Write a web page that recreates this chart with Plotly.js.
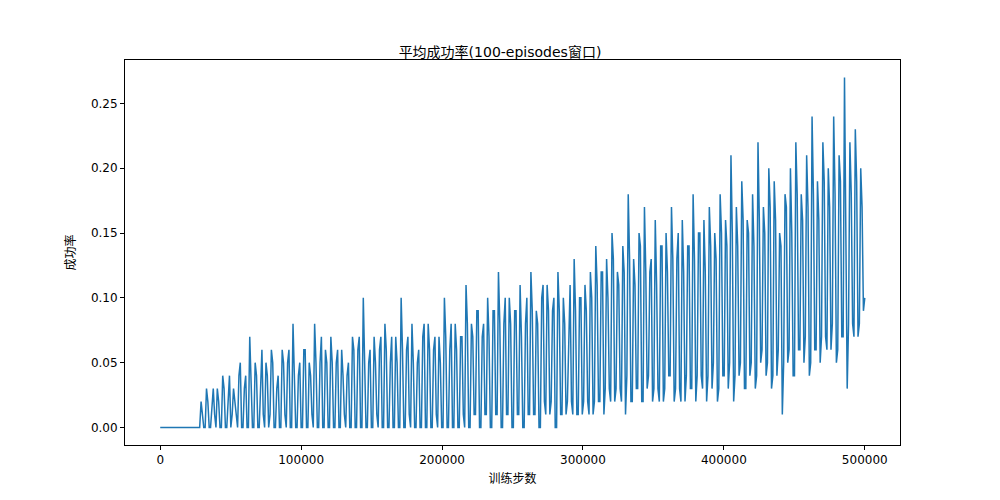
<!DOCTYPE html>
<html><head><meta charset="utf-8">
<script src="https://cdn.plot.ly/plotly-3.0.1.min.js"></script>
</head><body style="margin:0">
<div id="c" style="width:1000px;height:500px"></div>
<script>
const titleText = "平均成功率(100-episodes窗口)";
const xLabel = "训练步数";
const yLabel = "成功率";
const startSteps = [0, 28000];
const startValues = [0, 0];
const rampStart = 29000, rampEnd = 500000;
const seg1 = [0.02,0,0.03,0,0.02,0.01,0.03,0,0.04,0,0.02,0,0.03,0.01,0.04,0,0.03,0,0.07,0,0.05,0,0.04,0.01,0.05,0,0.06,0,0.03,0,0.06,0.01,0.05,0,0.08,0,0.04,0,0.06,0,0.05,0.01,0.08,0,0.05,0,0.06,0];
const seg1b = [0.01,0,0.02,0,0.03,0,0.02,0,0.03,0,0.04,0.01,0.02,0,0.05,0,0.04,0,0.03,0,0.04,0,0.06,0,0.04,0.01,0.05,0,0.04,0,0.05,0,0.06,0,0.04,0,0.05,0,0.06,0,0.04,0,0.05,0,0.07,0,0.05,0];
const seg2 = [0.07,0,0.05,0,0.06,0.01,0.04,0,0.07,0,0.06,0,0.10,0,0.05,0,0.07,0.01,0.06,0,0.08,0,0.05,0,0.07,0,0.10,0,0.06,0.01,0.08,0,0.05,0,0.07,0,0.08,0,0.06,0.01,0.07,0,0.10,0,0.06,0,0.08,0,0.07,0.01];
const seg2b = [0.05,0,0.06,0,0.04,0,0.05,0,0.06,0,0.07,0,0.05,0,0.06,0,0.05,0,0.07,0,0.06,0,0.07,0,0.05,0,0.06,0,0.07,0,0.05,0,0.06,0,0.08,0,0.06,0,0.07,0,0.05,0,0.07,0,0.08,0,0.06,0,0.07,0];
const seg3 = [0.11,0,0.08,0.01,0.09,0,0.07,0.01,0.10,0,0.09,0.01,0.12,0,0.08,0.01,0.10,0,0.09,0.01,0.11,0,0.08,0.01,0.12,0.01,0.09,0,0.10,0.02,0.11,0.01,0.09,0,0.12,0.01,0.10,0.01,0.08,0.02,0.13,0.01,0.10,0.01,0.11,0.02,0.12,0.01];
const seg3b = [0.08,0,0.07,0.01,0.09,0,0.08,0.01,0.07,0,0.09,0.01,0.08,0,0.10,0.01,0.08,0,0.09,0.01,0.07,0,0.10,0.01,0.09,0.01,0.08,0,0.11,0.01,0.09,0.02,0.10,0,0.09,0.01,0.08,0.02,0.11,0.01,0.09,0.01,0.10,0.02,0.09,0.01,0.10,0.02];
const seg4 = [0.14,0.02,0.12,0.01,0.13,0.03,0.15,0.02,0.12,0.03,0.14,0.01,0.18,0.02,0.13,0.03,0.15,0.02,0.17,0.03,0.12,0.02,0.16,0.03,0.14,0.02,0.15,0.04,0.17,0.02,0.13,0.03,0.16,0.02,0.14,0.03,0.18,0.02,0.15,0.04,0.16,0.02,0.17,0.03,0.15,0.02,0.18,0.04,0.16,0.03];
const seg4b = [0.11,0.02,0.12,0.03,0.10,0.02,0.13,0.03,0.11,0.02,0.12,0.04,0.13,0.02,0.11,0.03,0.14,0.02,0.12,0.04,0.13,0.03,0.11,0.02,0.14,0.03,0.12,0.04,0.13,0.03,0.15,0.02,0.12,0.04,0.14,0.03,0.13,0.04,0.15,0.03,0.12,0.04,0.14,0.05,0.13,0.03,0.15,0.04,0.14,0.05];
const seg5 = [0.21,0.02,0.17,0.04,0.19,0.03,0.16,0.04,0.18,0.03,0.22,0.05,0.17,0.04,0.20,0.03,0.19,0.04,0.15,0.01,0.18,0.05,0.20,0.04,0.22,0.06,0.18,0.05,0.21,0.04,0.24,0.06,0.19,0.05,0.22,0.07,0.20,0.06,0.24,0.05,0.21,0.07,0.27,0.03,0.22,0.08,0.23,0.07,0.20,0.09];
const seg5b = [0.15,0.04,0.14,0.05,0.16,0.03,0.15,0.05,0.14,0.04,0.16,0.06,0.15,0.05,0.17,0.04,0.16,0.06,0.14,0.05,0.17,0.06,0.15,0.04,0.18,0.06,0.16,0.07,0.17,0.05,0.18,0.06,0.16,0.07,0.19,0.06,0.17,0.08,0.18,0.06,0.19,0.07,0.17,0.08,0.18,0.07,0.19,0.08,0.17,0.10];

function interleave(a, b) { const out = []; for (let i = 0; i < Math.max(a.length, b.length); i++) { if (i < a.length) out.push(a[i]); if (i < b.length) out.push(b[i]); } return out; }
const ramp = [].concat(interleave(seg1, seg1b), interleave(seg2, seg2b), interleave(seg3, seg3b), interleave(seg4, seg4b), interleave(seg5, seg5b));
const xs = startSteps.slice(), ys = startValues.slice();
const step = (rampEnd - rampStart) / (ramp.length - 1);
ramp.forEach((v, i) => { xs.push(rampStart + i * step); ys.push(v); });

const font = {family: "DejaVu Sans, 'Noto Sans CJK SC', sans-serif", size: 12, color: "#000"};
const ax = {showgrid:false, zeroline:false, showline:true, mirror:true, linecolor:"#000", linewidth:1,
  ticks:"outside", ticklen:4, tickcolor:"#000", tickfont:font};
Plotly.newPlot("c", [{x: xs, y: ys, type: "scatter", mode: "lines", line: {color: "#1f77b4", width: 1.5}}], {
  width: 1000, height: 500, paper_bgcolor: "#fff", plot_bgcolor: "#fff", showlegend: false,
  margin: {l: 125, r: 100, t: 60, b: 55},
  title: {text: titleText, x: 0.5, y: 0.905, xanchor: "center", font: {family: font.family, size: 14, color: "#000"}},
  xaxis: Object.assign({}, ax, {range: [-25000, 525000], tickvals: [0,100000,200000,300000,400000,500000],
    ticktext: ["0","100000","200000","300000","400000","500000"], title: {text: xLabel, font: font, standoff: 8}}),
  yaxis: Object.assign({}, ax, {range: [-0.0135, 0.2835], tickvals: [0,0.05,0.1,0.15,0.2,0.25],
    ticktext: ["0.00","0.05","0.10","0.15","0.20","0.25"], title: {text: yLabel, font: font, standoff: 12}})
}, {staticPlot: true});
</script>
</body></html>
